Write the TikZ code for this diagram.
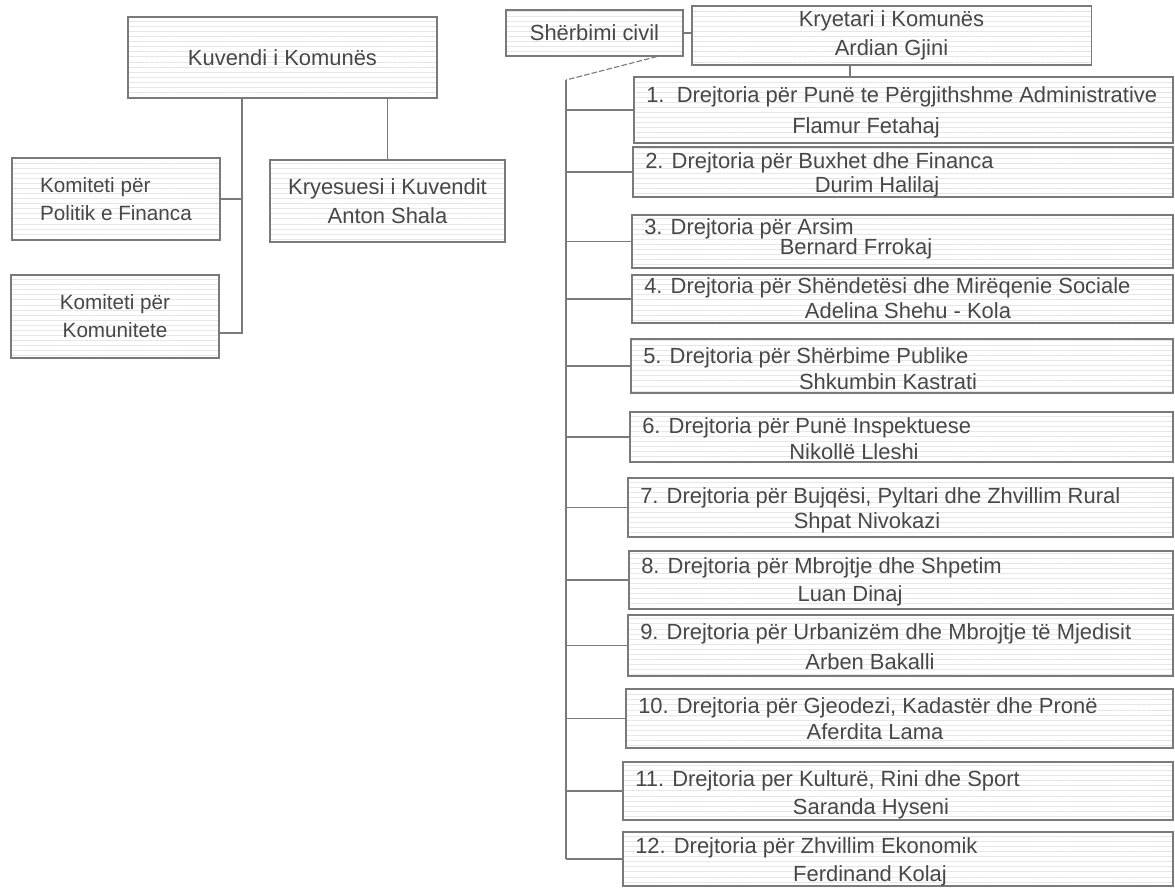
\documentclass[tikz,border=0pt]{standalone}
\usepackage{fontspec}
\setmainfont{Liberation Sans}
\usetikzlibrary{positioning,calc,fit,patterns.meta}
\definecolor{inkgray}{HTML}{474747}
\definecolor{linegray}{HTML}{7A7A7A}
\definecolor{stripe}{HTML}{E6E6E6}

\begin{document}
\begin{tikzpicture}[x=0.025cm,y=-0.025cm,
	box/.style={draw=linegray,line width=0.8pt,inner sep=0pt,pattern={Lines[distance=3.6pt,line width=0.45pt]},pattern color=stripe,text=inkgray,font=\fontsize{15.6}{20.5}\selectfont},
	smallbox/.style={box,font=\fontsize{14.7}{20}\selectfont},
	txt/.style={text=inkgray,inner sep=0pt,font=\fontsize{15.6}{20.5}\selectfont},
	link/.style={draw=linegray,line width=0.8pt}]
	\useasboundingbox (0,0) rectangle (1175,887);
	% assembly side
	\node (Kuvendi) [box,minimum width=7.725cm,minimum height=2.025cm] at (282.5,57.5) {Kuvendi i Komunës};
	\node (Kom1) [smallbox,align=left,minimum width=5.2cm,minimum height=2.05cm] at (116,199) {Komiteti për\\Politik e Financa};
	\node (Kom2) [smallbox,align=center,minimum width=5.2cm,minimum height=2.075cm] at (115,316.5) {Komiteti për\\Komunitete};
	\node (Kryesuesi) [box,align=center,minimum width=5.875cm,minimum height=2.05cm] at (387.5,201) {Kryesuesi i Kuvendit\\Anton Shala};
	\coordinate (Split) at (242,333);
	\draw[link] (Kuvendi.south -| Split) -- (Split) -- (Split -| Kom2.east);
	\draw[link] (Kom1.east) -- (Kom1.east -| Split);
	\draw[link] (Kuvendi.south -| Kryesuesi.north) -- (Kryesuesi.north);
	% mayor side
	\node (Civil) [box,minimum width=4.425cm,minimum height=1.15cm] at (594.5,33) {Shërbimi civil};
	\node (Kryetari) [box,align=center,minimum width=9.975cm,minimum height=1.475cm] at (891.5,35.5) {Kryetari i Komunës\\Ardian Gjini};
	\draw[link] (Civil.east) -- (Civil.east -| Kryetari.west);
	\node (D1) [box,fit={(634,77) (1173,143)}] {};
	\node [txt,anchor=base west] at (646,103) {1.\ \ Drejtoria për Punë te Përgjithshme Administrative};
	\node [txt,anchor=base] at (866,133) {Flamur Fetahaj};
	\node (D2) [box,fit={(633,147) (1173,197)}] {};
	\node [txt,anchor=base west] at (645,168) {2. Drejtoria për Buxhet dhe Financa};
	\node [txt,anchor=base] at (877,192) {Durim Halilaj};
	\node (D3) [box,fit={(632,215) (1173,268)}] {};
	\node [txt,anchor=base west] at (644,234) {3. Drejtoria për Arsim};
	\node [txt,anchor=base] at (856,254) {Bernard Frrokaj};
	\node (D4) [box,fit={(632,275) (1173,323)}] {};
	\node [txt,anchor=base west] at (644,293) {4. Drejtoria për Shëndetësi dhe Mirëqenie Sociale};
	\node [txt,anchor=base] at (908,318) {Adelina Shehu - Kola};
	\node (D5) [box,fit={(631,339) (1173,393)}] {};
	\node [txt,anchor=base west] at (643,363) {5. Drejtoria për Shërbime Publike};
	\node [txt,anchor=base] at (888,389) {Shkumbin Kastrati};
	\node (D6) [box,fit={(630,412) (1173,462)}] {};
	\node [txt,anchor=base west] at (642,433) {6. Drejtoria për Punë Inspektuese};
	\node [txt,anchor=base] at (854,459) {Nikollë Lleshi};
	\node (D7) [box,fit={(628,478) (1173,537)}] {};
	\node [txt,anchor=base west] at (640,503) {7. Drejtoria për Bujqësi, Pyltari dhe Zhvillim Rural};
	\node [txt,anchor=base] at (867,528) {Shpat Nivokazi};
	\node (D8) [box,fit={(629,551) (1173,609)}] {};
	\node [txt,anchor=base west] at (641,573) {8. Drejtoria për Mbrojtje dhe Shpetim};
	\node [txt,anchor=base] at (850,601) {Luan Dinaj};
	\node (D9) [box,fit={(628,615) (1173,676)}] {};
	\node [txt,anchor=base west] at (640,639) {9. Drejtoria për Urbanizëm dhe Mbrojtje të Mjedisit};
	\node [txt,anchor=base] at (870,669) {Arben Bakalli};
	\node (D10) [box,fit={(626,689) (1173,748)}] {};
	\node [txt,anchor=base west] at (638,713) {10. Drejtoria për Gjeodezi, Kadastër dhe Pronë};
	\node [txt,anchor=base] at (875,739) {Aferdita Lama};
	\node (D11) [box,fit={(623,762) (1173,820)}] {};
	\node [txt,anchor=base west] at (635,786) {11. Drejtoria per Kulturë, Rini dhe Sport};
	\node [txt,anchor=base] at (871,814) {Saranda Hyseni};
	\node (D12) [box,fit={(623,832) (1173,886)}] {};
	\node [txt,anchor=base west] at (635,853) {12. Drejtoria për Zhvillim Ekonomik};
	\node [txt,anchor=base] at (870,881) {Ferdinand Kolaj};
	\coordinate (Drop) at (850,0);
	\draw[link] (Kryetari.south -| Drop) -- (D1.north -| Drop);
	\coordinate (Trunk) at (566,80);
	\draw[link,dash pattern=on 4pt off 1.5pt] ($(Civil.south)!0.7!(Civil.south east)$) -- (Trunk);
	\draw[link] (Trunk) -- (Trunk |- D12.west);
	\draw[link] (D1.west) -- (D1.west -| Trunk);
	\draw[link] (D2.west) -- (D2.west -| Trunk);
	\draw[link] (D3.west) -- (D3.west -| Trunk);
	\draw[link] (D4.west) -- (D4.west -| Trunk);
	\draw[link] (D5.west) -- (D5.west -| Trunk);
	\draw[link] (D6.west) -- (D6.west -| Trunk);
	\draw[link] (D7.west) -- (D7.west -| Trunk);
	\draw[link] (D8.west) -- (D8.west -| Trunk);
	\draw[link] (D9.west) -- (D9.west -| Trunk);
	\draw[link] (D10.west) -- (D10.west -| Trunk);
	\draw[link] (D11.west) -- (D11.west -| Trunk);
	\draw[link] (D12.west) -- (D12.west -| Trunk);
\end{tikzpicture}
\end{document}
